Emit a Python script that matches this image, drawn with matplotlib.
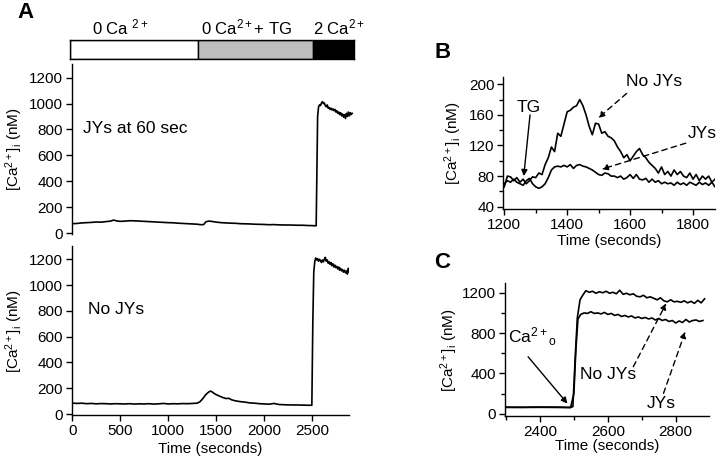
import matplotlib
matplotlib.use("Agg")
import matplotlib.pyplot as plt
from matplotlib.ticker import MultipleLocator

plt.rcParams['font.family'] = ['Liberation Sans', 'DejaVu Sans']
plt.rcParams['mathtext.fontset'] = 'custom'
plt.rcParams['mathtext.rm'] = 'Liberation Sans'
plt.rcParams['mathtext.it'] = 'Liberation Sans:italic'
plt.rcParams['mathtext.bf'] = 'Liberation Sans:bold'

# ---------------- data ----------------
# Phase bar (panel A)
phase_edges = [-24, 1306, 2507, 2934]
phase_labels = ["0 Ca $^{2+}$", "0 Ca$^{2+}$+ TG", "2 Ca$^{2+}$"]
phase_label_x = [497, 1820, 2778]
phase_colors = ["white", "#bdbdbd", "black"]

# Panel A, top: JYs at 60 sec
a1_t = [0, 50, 100, 150, 200, 250, 300, 350, 400, 430, 460, 500, 550, 600, 650, 700,
        750, 800, 850, 900, 950, 1000, 1050, 1100, 1150, 1200, 1250, 1300, 1340, 1370,
        1390, 1420, 1450, 1500, 1550, 1600, 1650, 1700, 1750, 1800, 1850, 1900, 1950,
        2000, 2050, 2100, 2150, 2200, 2250, 2300, 2350, 2400, 2450, 2500, 2540, 2548,
        2555, 2565, 2575, 2585, 2595, 2605, 2615, 2625, 2635, 2645, 2655, 2665, 2675,
        2685, 2695, 2705, 2715, 2725, 2735, 2745, 2755, 2765, 2775, 2785, 2795, 2805,
        2815, 2825, 2835, 2845, 2855, 2865, 2875, 2885, 2895, 2905, 2915]
a1_v = [72, 74, 78, 80, 82, 85, 84, 88, 92, 100, 94, 90, 92, 95, 94, 92,
        90, 88, 86, 84, 82, 80, 79, 76, 74, 72, 70, 68, 64, 66,
        86, 92, 90, 84, 80, 78, 76, 75, 72, 71, 70, 68, 67,
        66, 64, 65, 63, 62, 62, 61, 60, 60, 58, 57, 56, 500,
        900, 975, 990, 985, 1005, 1015, 1000, 1005, 985, 975, 990, 965, 970,
        955, 965, 950, 960, 945, 955, 935, 945, 925, 935, 915, 930, 905,
        920, 895, 915, 885, 925, 900, 935, 905, 930, 915, 925]

# Panel A, bottom: No JYs
a2_t = [0, 50, 100, 150, 200, 250, 300, 350, 400, 450, 500, 550, 600, 650, 700, 750,
        800, 850, 900, 950, 1000, 1050, 1100, 1150, 1200, 1250, 1300, 1330, 1360, 1390,
        1420, 1440, 1460, 1480, 1500, 1530, 1560, 1600, 1630, 1660, 1700, 1750, 1800,
        1850, 1900, 1950, 2000, 2050, 2100, 2150, 2200, 2250, 2300, 2350, 2400, 2450,
        2495, 2505, 2515, 2525, 2535, 2545, 2555, 2565, 2575, 2585, 2595, 2605, 2615,
        2625, 2635, 2645, 2655, 2665, 2675, 2685, 2695, 2705, 2715, 2725, 2735, 2745,
        2755, 2765, 2775, 2785, 2795, 2805, 2815, 2825, 2835, 2845, 2855, 2865, 2875,
        2885, 2895]
a2_v = [85, 82, 84, 80, 82, 79, 81, 80, 78, 80, 79, 78, 80, 77, 79, 78,
        80, 77, 79, 82, 78, 80, 79, 81, 80, 82, 84, 95, 120, 150,
        170, 178, 170, 158, 150, 140, 130, 120, 122, 110, 102, 96, 92,
        86, 84, 80, 78, 76, 82, 74, 72, 71, 70, 70, 69, 68,
        68, 700, 1100, 1180, 1210, 1195, 1205, 1185, 1200, 1190, 1175, 1195, 1180,
        1200, 1215, 1185, 1195, 1170, 1180, 1160, 1175, 1150, 1165, 1140, 1155, 1135,
        1145, 1125, 1140, 1115, 1130, 1110, 1120, 1100, 1115, 1095, 1110, 1085, 1130,
        1100, 1125]

# Panel B: TG response, 1200-1870 s
b_t = [1200, 1210, 1220, 1230, 1240, 1250, 1260, 1270, 1280, 1290, 1300, 1310, 1320,
       1330, 1340, 1350, 1360, 1370, 1380, 1390, 1400, 1410, 1420, 1430, 1440, 1450,
       1460, 1470, 1480, 1490, 1500, 1510, 1520, 1530, 1540, 1550, 1560, 1570, 1580,
       1590, 1600, 1610, 1620, 1630, 1640, 1650, 1660, 1670, 1680, 1690, 1700, 1710,
       1720, 1730, 1740, 1750, 1760, 1770, 1780, 1790, 1800, 1810, 1820, 1830, 1840,
       1850, 1860, 1870]
b_nojy = [66, 80, 79, 74, 78, 72, 76, 70, 74, 79, 78, 84, 82,
          95, 104, 118, 112, 136, 132, 148, 164, 166, 170, 172, 180, 172,
          160, 145, 134, 149, 148, 136, 138, 132, 130, 126, 118, 112, 104,
          108, 100, 106, 112, 116, 108, 104, 98, 94, 90, 84, 92, 82,
          86, 80, 88, 82, 86, 80, 78, 84, 76, 82, 74, 80, 76,
          80, 72, 76]
b_jy = [70, 74, 72, 76, 72, 70, 68, 74, 77, 70, 66, 64, 66,
        70, 78, 88, 92, 93, 92, 94, 92, 95, 90, 94, 95, 93,
        92, 90, 88, 85, 82, 81, 84, 83, 80, 80, 78, 80, 76,
        78, 82, 77, 82, 76, 75, 77, 72, 76, 72, 74, 70, 72,
        70, 71, 68, 72, 69, 71, 68, 72, 70, 68, 72, 69, 71,
        68, 72, 66]

# Panel C: Ca2+ re-addition, 2300-2890 s
c_nojy_t = [2300, 2350, 2400, 2450, 2490, 2497, 2503, 2510, 2518, 2525, 2535, 2545,
            2555, 2565, 2575, 2585, 2595, 2605, 2615, 2625, 2635, 2645, 2655, 2665,
            2675, 2685, 2695, 2705, 2715, 2725, 2735, 2745, 2755, 2765, 2775, 2785,
            2795, 2805, 2815, 2825, 2835, 2845, 2855, 2865, 2875, 2885]
c_nojy_v = [65, 64, 66, 65, 63, 70, 500, 950, 1130, 1170, 1220, 1205,
            1215, 1195, 1210, 1200, 1215, 1195, 1205, 1190, 1225, 1185, 1195, 1180,
            1190, 1165, 1160, 1175, 1150, 1160, 1145, 1130, 1150, 1120, 1110, 1130,
            1110, 1115, 1105, 1120, 1100, 1115, 1095, 1125, 1100, 1140]
c_jy_t = [2300, 2350, 2400, 2450, 2490, 2500, 2506, 2512, 2520, 2530, 2540, 2550,
          2560, 2570, 2580, 2590, 2600, 2610, 2620, 2630, 2640, 2650, 2660, 2670,
          2680, 2690, 2700, 2710, 2720, 2730, 2740, 2750, 2760, 2770, 2780, 2790,
          2800, 2810, 2820, 2830, 2840, 2850, 2860, 2870, 2880]
c_jy_v = [62, 62, 63, 62, 60, 200, 650, 940, 985, 1000, 995, 1012,
          995, 1000, 990, 1005, 985, 995, 975, 985, 965, 975, 960, 970,
          950, 960, 945, 955, 940, 950, 930, 945, 925, 935, 915, 925,
          900, 920, 905, 935, 910, 925, 930, 915, 925]

ylabel = "[Ca$^{2+}$]$_\\mathrm{i}$ (nM)"

# ---------------- figure ----------------
fig = plt.figure(figsize=(7.2, 4.59), dpi=100)
LW = 1.2

def style(ax, bottom=True):
    for s in ['top', 'right']:
        ax.spines[s].set_visible(False)
    if not bottom:
        ax.spines['bottom'].set_visible(False)
    ax.tick_params(direction='out', length=4.5, width=1, labelsize=11, pad=2)
    ax.tick_params(which='minor', direction='out', length=3, width=1)
    for s in ['left', 'bottom']:
        ax.spines[s].set_linewidth(1)

# phase bar
axbar = fig.add_axes([70/720, 1-59/459, 284/720, 19/459])
axbar.set_xlim(phase_edges[0], phase_edges[-1])
axbar.set_ylim(0, 1)
for i in range(3):
    axbar.axvspan(phase_edges[i], phase_edges[i+1], ymin=0, ymax=1,
                  facecolor=phase_colors[i], edgecolor='black', lw=1)
    axbar.text(phase_label_x[i], 1.28, phase_labels[i], ha='center', va='baseline',
               fontsize=12, transform=axbar.get_xaxis_transform())
axbar.set_xticks([]); axbar.set_yticks([])
for s in axbar.spines.values():
    s.set_linewidth(1)

# A top
ax1 = fig.add_axes([72/720, 1-234.3/459, 282/720, 170.8/459])
ax1.plot(a1_t, a1_v, color='black', lw=LW)
ax1.set_xlim(-3, 2934)
ax1.set_ylim(-10, 1310)
ax1.set_yticks([0, 200, 400, 600, 800, 1000, 1200])
ax1.set_xticks([])
style(ax1, bottom=False)
ax1.set_ylabel(ylabel, fontsize=11)
ax1.yaxis.set_label_coords(-0.165, 0.5)
ax1.text(108, 811, "JYs at 60 sec", fontsize=12.5, va='center', ha='left')

# A bottom
ax2 = fig.add_axes([72/720, 1-415.3/459, 277/720, 168.9/459])
ax2.plot(a2_t, a2_v, color='black', lw=LW)
ax2.set_xlim(-3, 2882)
ax2.set_ylim(-10, 1300)
ax2.set_yticks([0, 200, 400, 600, 800, 1000, 1200])
ax2.set_xticks([0, 500, 1000, 1500, 2000, 2500])
style(ax2)
ax2.set_ylabel(ylabel, fontsize=11)
ax2.yaxis.set_label_coords(-0.168, 0.5)
ax2.set_xlabel("Time (seconds)", fontsize=11)
ax2.xaxis.set_label_coords(0.5, -0.16)
ax2.text(164, 812, "No JYs", fontsize=12.5, va='center', ha='left')

# B
axb = fig.add_axes([503.3/720, 1-209/459, 211.7/720, 132.4/459])
axb.plot(b_t, b_nojy, color='black', lw=LW)
axb.plot(b_t, b_jy, color='black', lw=LW)
axb.set_xlim(1197, 1870)
axb.set_ylim(37, 210)
axb.set_xticks([1200, 1400, 1600, 1800])
axb.set_yticks([40, 80, 120, 160, 200])
axb.xaxis.set_minor_locator(MultipleLocator(100))
axb.yaxis.set_minor_locator(MultipleLocator(20))
style(axb)
axb.set_ylabel(ylabel, fontsize=11)
axb.yaxis.set_label_coords(-0.185, 0.5)
axb.set_xlabel("Time (seconds)", fontsize=11)
axb.xaxis.set_label_coords(0.5, -0.19)

solid = dict(arrowstyle='-|>', color='black', lw=1, mutation_scale=9, shrinkA=0, shrinkB=0)
dashed = dict(arrowstyle='-|>', color='black', lw=1, mutation_scale=9, shrinkA=0, shrinkB=0,
              linestyle=(0, (4, 3)))
axb.text(1278, 169, "TG", fontsize=12.5, ha='center', va='center')
axb.annotate("", xy=(1262, 80), xytext=(1282, 160), arrowprops=solid)
axb.text(1677, 204, "No JYs", fontsize=12.5, ha='center', va='center')
axb.annotate("", xy=(1499, 156), xytext=(1589, 188), arrowprops=dashed)
axb.text(1828, 135, "JYs", fontsize=12.5, ha='center', va='center')
axb.annotate("", xy=(1510, 89), xytext=(1777, 123), arrowprops=dashed)

# C
axc = fig.add_axes([505/720, 1-416.2/459, 204/720, 132.8/459])
axc.plot(c_nojy_t, c_nojy_v, color='black', lw=LW)
axc.plot(c_jy_t, c_jy_v, color='black', lw=LW)
axc.set_xlim(2297, 2898)
axc.set_ylim(-25, 1293)
axc.set_xticks([2400, 2600, 2800])
axc.set_yticks([0, 400, 800, 1200])
axc.xaxis.set_minor_locator(MultipleLocator(100))
axc.yaxis.set_minor_locator(MultipleLocator(200))
style(axc)
axc.set_ylabel(ylabel, fontsize=11)
axc.yaxis.set_label_coords(-0.22, 0.5)
axc.set_xlabel("Time (seconds)", fontsize=11)
axc.xaxis.set_label_coords(0.5, -0.17)
axc.text(2306, 700, "Ca$^{2+}$$_\\mathrm{o}$", fontsize=12.5, ha='left', va='baseline')
axc.annotate("", xy=(2481, 100), xytext=(2365, 565), arrowprops=solid)
axc.text(2600, 384, "No JYs", fontsize=12.5, ha='center', va='center')
axc.annotate("", xy=(2772, 1095), xytext=(2675, 466), arrowprops=dashed)
axc.text(2757, 106, "JYs", fontsize=12.5, ha='center', va='center')
axc.annotate("", xy=(2828, 813), xytext=(2764, 202), arrowprops=dashed)

# panel letters
for lab, x, y in [("A", 26, 12.5), ("B", 443, 52), ("C", 442, 262)]:
    fig.text(x/720, 1-y/459, lab, fontsize=16, fontweight='bold', ha='center', va='center')

fig.savefig("out.png", dpi=100)
